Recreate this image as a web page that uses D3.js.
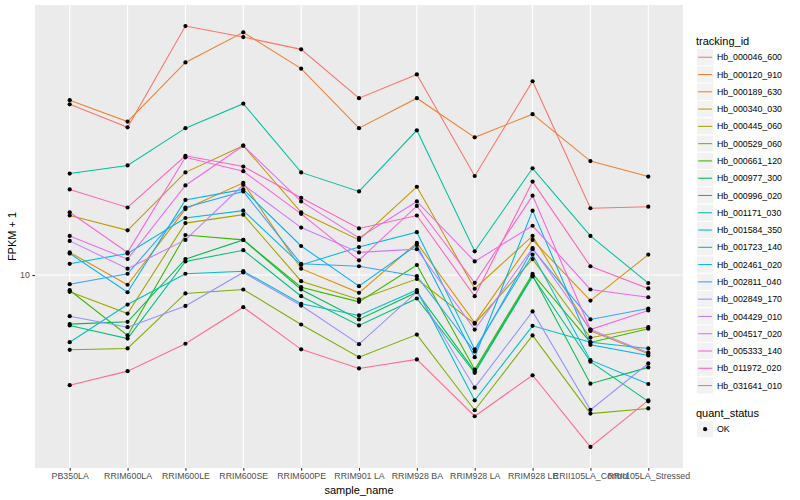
<!DOCTYPE html>
<html>
<head>
<meta charset="utf-8">
<script src="https://cdn.jsdelivr.net/npm/d3@7"></script>
<style>
  body { margin: 0; background: #fff; }
  text { font-family: "Liberation Sans", Arial, sans-serif; }
</style>
</head>
<body>
<svg width="800" height="500"></svg>
<script>
// samples on the x axis
var samples = ["PB350LA", "RRIM600LA", "RRIM600LE", "RRIM600SE", "RRIM600PE", "RRIM901 LA",
  "RRIM928 BA", "RRIM928 LA", "RRIM928 LE", "RRII105LA_Control", "RRII105LA_Stressed"];

var trackingIds = ["Hb_000046_600", "Hb_000120_910", "Hb_000189_630", "Hb_000340_030", "Hb_000445_060",
  "Hb_000529_060", "Hb_000661_120", "Hb_000977_300", "Hb_000996_020", "Hb_001171_030",
  "Hb_001584_350", "Hb_001723_140", "Hb_002461_020", "Hb_002811_040", "Hb_002849_170",
  "Hb_004429_010", "Hb_004517_020", "Hb_005333_140", "Hb_011972_020", "Hb_031641_010"];

var quantStatus = ["OK"];

// FPKM + 1, one row per tracking_id, columns in samples order
var fpkm = [
  [37.1, 31.1, 67.7, 62.2, 56.6, 38.9, 46.7, 21.4, 44.3, 16.7, 16.9],
  [38.3, 32.5, 51.2, 64.5, 48.8, 30.9, 38.9, 28.8, 34.4, 24.0, 21.3],
  [11.9, 9.28, 16.6, 20.3, 10.5, 8.72, 12.8, 6.93, 13.1, 8.22, 11.7],
  [15.8, 14.1, 22.0, 27.0, 16.2, 13.1, 19.7, 9.00, 13.5, 6.51, 5.46],
  [8.79, 7.44, 14.9, 15.9, 9.54, 8.29, 9.70, 6.88, 11.3, 6.18, 6.71],
  [5.63, 5.69, 8.68, 8.95, 6.84, 5.32, 6.33, 3.54, 6.29, 3.45, 3.59],
  [8.90, 6.29, 13.6, 13.1, 9.11, 8.14, 10.8, 4.84, 10.1, 5.96, 6.62],
  [6.86, 6.98, 11.3, 13.1, 8.95, 7.11, 8.76, 4.77, 9.96, 4.34, 4.92],
  [6.79, 6.14, 11.1, 12.1, 8.50, 6.79, 8.35, 4.72, 9.89, 5.14, 3.79],
  [21.8, 23.2, 30.9, 37.3, 22.0, 19.0, 30.4, 12.0, 22.7, 13.5, 9.40],
  [5.97, 7.97, 10.1, 10.3, 8.02, 7.33, 8.91, 3.82, 6.77, 5.97, 5.69],
  [10.9, 11.8, 15.5, 16.4, 10.8, 12.4, 13.9, 5.65, 11.7, 5.20, 4.33],
  [11.8, 8.76, 17.8, 19.3, 12.5, 9.18, 12.6, 5.32, 16.4, 5.85, 5.39],
  [9.32, 10.1, 16.8, 19.0, 10.9, 10.7, 9.91, 5.56, 12.2, 7.11, 7.73],
  [7.29, 6.70, 7.89, 10.2, 7.91, 5.88, 8.78, 4.21, 7.56, 3.55, 5.07],
  [13.0, 10.5, 13.1, 20.0, 14.4, 11.9, 12.2, 6.58, 12.3, 6.58, 5.51],
  [13.5, 11.3, 19.9, 27.0, 17.6, 13.3, 17.6, 11.1, 14.6, 8.95, 8.43],
  [16.2, 11.9, 24.7, 22.2, 16.0, 11.2, 17.0, 9.42, 18.4, 6.58, 7.62],
  [19.3, 16.8, 25.0, 23.0, 18.1, 14.3, 15.8, 8.50, 20.5, 10.7, 9.02],
  [4.29, 4.78, 5.90, 7.81, 5.65, 4.88, 5.23, 3.38, 4.63, 2.67, 3.82]
];

// ggplot hue palette for 20 levels
var colors = ["#F8766D", "#EA8331", "#D89000", "#C09B00", "#A3A500", "#7CAE00", "#39B600", "#00BB4E",
  "#00BF7D", "#00C1A3", "#00BFC4", "#00BAE0", "#00B0F6", "#35A2FF", "#9590FF", "#C77CFF",
  "#E76BF3", "#FA62DB", "#FF62BC", "#FF6C91"];

var svg = d3.select("svg"),
    panel = {left: 35, right: 683, top: 5, bottom: 468};

var x = d3.scalePoint()
    .domain(samples)
    .range([panel.left, panel.right])
    .padding(0.6);

var all = d3.merge(fpkm);
var lo = Math.log10(d3.min(all)), hi = Math.log10(d3.max(all)), pad = (hi - lo) * 0.05;
var y = d3.scaleLog()
    .domain([Math.pow(10, lo - pad), Math.pow(10, hi + pad)])
    .range([panel.bottom, panel.top]);

// panel background + grid
svg.append("rect")
    .attr("x", panel.left).attr("y", panel.top)
    .attr("width", panel.right - panel.left).attr("height", panel.bottom - panel.top)
    .attr("fill", "#EBEBEB");

svg.append("g").selectAll("line")
    .data(samples)
  .enter().append("line")
    .attr("x1", function(d) { return x(d); }).attr("x2", function(d) { return x(d); })
    .attr("y1", panel.top).attr("y2", panel.bottom)
    .attr("stroke", "#fff").attr("stroke-width", 1.07);

var yTicks = [10];
svg.append("g").selectAll("line")
    .data(yTicks)
  .enter().append("line")
    .attr("x1", panel.left).attr("x2", panel.right)
    .attr("y1", function(d) { return y(d); }).attr("y2", function(d) { return y(d); })
    .attr("stroke", "#fff").attr("stroke-width", 1.07);

// axes
var xAxis = svg.append("g")
    .attr("transform", "translate(0," + panel.bottom + ")")
    .call(d3.axisBottom(x).tickSize(2.7).tickPadding(2.5));
xAxis.select(".domain").remove();
xAxis.selectAll("line").attr("stroke", "#333").attr("stroke-width", 1.07);
xAxis.selectAll("text").attr("fill", "#4D4D4D").style("font-size", "8.8px");

var yAxis = svg.append("g")
    .attr("transform", "translate(" + panel.left + ",0)")
    .call(d3.axisLeft(y).tickValues(yTicks).tickFormat(d3.format("d")).tickSize(2.7).tickPadding(2.5));
yAxis.select(".domain").remove();
yAxis.selectAll("line").attr("stroke", "#333").attr("stroke-width", 1.07);
yAxis.selectAll("text").attr("fill", "#4D4D4D").style("font-size", "8.8px");

svg.append("text")
    .attr("x", (panel.left + panel.right) / 2).attr("y", 494)
    .attr("text-anchor", "middle").style("font-size", "11px")
    .text("sample_name");

svg.append("text")
    .attr("transform", "translate(16," + (panel.top + panel.bottom) / 2 + ") rotate(-90)")
    .attr("text-anchor", "middle").style("font-size", "11px")
    .text("FPKM + 1");

// lines
var line = d3.line()
    .x(function(d, i) { return x(samples[i]); })
    .y(function(d) { return y(d); });

svg.append("g").selectAll("path")
    .data(fpkm)
  .enter().append("path")
    .attr("d", line)
    .attr("fill", "none")
    .attr("stroke", function(d, i) { return colors[i]; })
    .attr("stroke-width", 1.07);

// points
var pts = [];
fpkm.forEach(function(row) {
  row.forEach(function(v, j) { pts.push({s: samples[j], v: v}); });
});
svg.append("g").selectAll("circle")
    .data(pts)
  .enter().append("circle")
    .attr("cx", function(d) { return x(d.s); })
    .attr("cy", function(d) { return y(d.v); })
    .attr("r", 2.1)
    .attr("fill", "#000");

// legend: tracking_id
var lg = svg.append("g").attr("transform", "translate(696,0)");
lg.append("text").attr("x", 0).attr("y", 44.5).style("font-size", "11px").text("tracking_id");

var keyH = 17.28, key0 = 48.6;
var items = lg.selectAll(".item")
    .data(trackingIds)
  .enter().append("g")
    .attr("transform", function(d, i) { return "translate(0," + (key0 + i * keyH) + ")"; });
items.append("rect")
    .attr("x", 0.5).attr("y", 0).attr("width", keyH).attr("height", keyH)
    .attr("fill", "#F2F2F2").attr("stroke", "#fff").attr("stroke-width", 1);
items.append("line")
    .attr("x1", 2.2).attr("x2", keyH - 1.2)
    .attr("y1", keyH / 2).attr("y2", keyH / 2)
    .attr("stroke", function(d, i) { return colors[i]; })
    .attr("stroke-width", 1.07);
items.append("text")
    .attr("x", keyH + 3.6).attr("y", keyH / 2 + 3.1)
    .style("font-size", "8.8px")
    .text(function(d) { return d; });

// legend: quant_status
var lq = svg.append("g").attr("transform", "translate(696,0)");
lq.append("text").attr("x", 0).attr("y", 416.5).style("font-size", "11px").text("quant_status");
var qi = lq.selectAll(".q")
    .data(quantStatus)
  .enter().append("g")
    .attr("transform", function(d, i) { return "translate(0," + (420.5 + i * keyH) + ")"; });
qi.append("rect")
    .attr("x", 0.5).attr("y", 0).attr("width", keyH).attr("height", keyH)
    .attr("fill", "#F2F2F2").attr("stroke", "#fff");
qi.append("circle")
    .attr("cx", keyH / 2 + 0.5).attr("cy", keyH / 2).attr("r", 2.1).attr("fill", "#000");
qi.append("text")
    .attr("x", keyH + 3.6).attr("y", keyH / 2 + 3.1)
    .style("font-size", "8.8px")
    .text(function(d) { return d; });
</script>
</body>
</html>
